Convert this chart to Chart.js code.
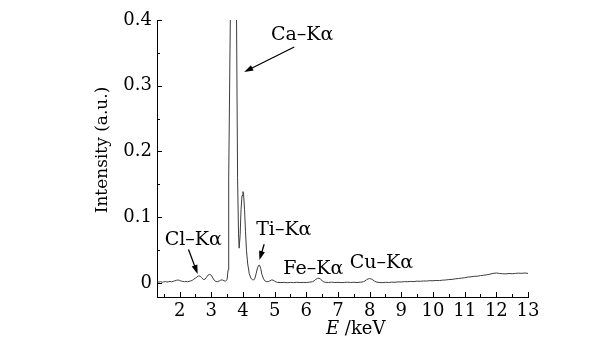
<!DOCTYPE html>
<html>
<head>
<meta charset="utf-8">
<script src="https://cdn.jsdelivr.net/npm/chart.js@4.4.0/dist/chart.umd.min.js"></script>
<style>
  body { margin: 0; background: #fff; }
</style>
</head>
<body>
<canvas id="myChart" width="611" height="338"></canvas>
<script>
// energy (keV) and intensity (a.u.)
var energy = [
    1.29, 1.35, 1.40, 1.45, 1.50, 1.55, 1.60, 1.65, 1.70, 1.75, 1.80, 1.85, 1.90, 1.95, 2.00,
    2.05, 2.10, 2.15, 2.20, 2.25, 2.30, 2.35, 2.40, 2.45, 2.50, 2.55, 2.60, 2.65, 2.70, 2.75,
    2.80, 2.85, 2.90, 2.95, 3.00, 3.05, 3.10, 3.15, 3.20, 3.25, 3.30, 3.35, 3.40, 3.45, 3.50,
    3.53, 3.55, 3.605, 3.69, 3.795, 3.83, 3.86, 3.88, 3.91, 3.94, 3.97, 4.00, 4.02, 4.05, 4.08,
    4.11, 4.15, 4.20, 4.25, 4.30, 4.34, 4.38, 4.42, 4.46, 4.50, 4.53, 4.56, 4.60, 4.65, 4.70,
    4.75, 4.80, 4.85, 4.90, 4.95, 5.00, 5.05, 5.10,
    5.2, 5.3, 5.4, 5.5, 5.6, 5.7, 5.8, 5.9, 6.0, 6.1, 6.2, 6.25, 6.3, 6.35, 6.4, 6.45, 6.5, 6.55,
    6.6, 6.7, 6.8, 6.9, 7.0, 7.1, 7.2, 7.3, 7.4, 7.5, 7.6, 7.7, 7.8, 7.85, 7.9, 7.95, 8.0, 8.05,
    8.1, 8.15, 8.2, 8.3, 8.4, 8.5, 8.6, 8.7, 8.8, 8.9, 9.0, 9.1, 9.2, 9.3, 9.4, 9.5, 9.6, 9.7,
    9.8, 9.9, 10.0, 10.1, 10.2, 10.3, 10.4, 10.5, 10.6, 10.7, 10.8, 10.9, 11.0, 11.1, 11.2, 11.3,
    11.4, 11.5, 11.6, 11.7, 11.8, 11.9, 12.0, 12.1, 12.2, 12.3, 12.4, 12.5, 12.6, 12.7, 12.8,
    12.9, 13.0
];
var intensity = [
    .0018, .0014, .0020, .0012, .0017, .0022, .0015, .0019, .0024, .0018, .0026, .0033, .0041, .0046, .0038,
    .0029, .0024, .0019, .0023, .0018, .0026, .0031, .0040, .0058, .0074, .0093, .0108, .0104, .0080, .0052,
    .0056, .0088, .0120, .0131, .0118, .0076, .0038, .0022, .0020, .0030, .0044, .0047, .0033, .0030, .0052,
    .020, .16, .42, 3.0, .42, .16, .075, .053, .072, .112, .133, .139, .135, .112, .078,
    .050, .029, .014, .0075, .0048, .0046, .0075, .0150, .0230, .0270, .0268, .0220, .0130, .0062, .0030,
    .0020, .0022, .0032, .0046, .0044, .0028, .0014, .0009,
    .0006, .0010, .0004, .0008, .0005, .0011, .0006, .0009, .0007, .0012, .0020, .0035, .0055, .0070, .0072, .0058, .0035, .0018,
    .0010, .0008, .0013, .0007, .0010, .0006, .0009, .0012, .0008, .0011, .0007, .0012, .0018, .0030, .0048, .0062, .0066, .0062,
    .0048, .0030, .0016, .0008, .0006, .0010, .0008, .0013, .0011, .0017, .0015, .0021, .0019, .0024, .0022, .0028, .0026, .0031,
    .0030, .0035, .0034, .0038, .0037, .0043, .0046, .0052, .0055, .0063, .0068, .0074, .0080, .0090, .0094, .0101,
    .0104, .0112, .0118, .0125, .0134, .0146, .0152, .0145, .0141, .0139, .0144, .0141, .0146, .0150, .0147,
    .0152, .0146
];

var xTicks = [2, 3, 4, 5, 6, 7, 8, 9, 10, 11, 12, 13];
var yTicks = [0, 0.1, 0.2, 0.3, 0.4];

// peak labels: text, label centre (keV, a.u.), arrow start and tip (or null)
var peakNames = ["Ca\u2013K\u03b1", "Cl\u2013K\u03b1", "Ti\u2013K\u03b1", "Fe\u2013K\u03b1", "Cu\u2013K\u03b1"];
var labelPos = [[5.87, 0.377], [2.43, 0.065], [5.29, 0.080], [6.22, 0.0213], [8.37, 0.031]];
var arrowFrom = [[5.62, 0.359], [2.28, 0.051], [4.67, 0.059], null, null];
var arrowTo = [[4.04, 0.321], [2.57, 0.0137], [4.52, 0.035], null, null];

var serif = "'DejaVu Serif', serif";

var spectrum = [];
for (var i = 0; i < energy.length; i++) {
    spectrum.push({ x: energy[i], y: intensity[i] });
}

// inward tick marks, axis titles and peak labels
var extras = {
    id: "extras",
    afterDraw: function (chart) {
        var ctx = chart.ctx;
        var xs = chart.scales.x;
        var ys = chart.scales.y;
        var area = chart.chartArea;
        ctx.save();
        ctx.strokeStyle = "#000";
        ctx.lineWidth = 1;

        // x ticks every 0.5 keV
        for (var v = 1.5; v <= 13.001; v += 0.5) {
            var px = Math.round(xs.getPixelForValue(v)) + 0.5;
            var len = (v % 1 === 0) ? 5 : 3;
            ctx.beginPath();
            ctx.moveTo(px, area.bottom);
            ctx.lineTo(px, area.bottom - len);
            ctx.stroke();
        }
        // y ticks every 0.05
        for (var k = 0; k <= 8; k++) {
            var val = k * 0.05;
            var py = Math.round(ys.getPixelForValue(val)) + 0.5;
            var l = (k % 2 === 0) ? 5 : 3;
            ctx.beginPath();
            ctx.moveTo(area.left, py);
            ctx.lineTo(area.left + l, py);
            ctx.stroke();
        }

        ctx.fillStyle = "#000";
        ctx.textBaseline = "middle";

        // y title
        ctx.save();
        ctx.translate(103, 150);
        ctx.rotate(-Math.PI / 2);
        ctx.textAlign = "center";
        ctx.font = "17px " + serif;
        ctx.fillText("Intensity (a.u.)", 0, 0);
        ctx.restore();

        // x title: italic E, upright unit
        ctx.textAlign = "left";
        ctx.font = "italic 18px " + serif;
        var eW = ctx.measureText("E ").width;
        ctx.fillText("E ", 326, 329);
        ctx.font = "18px " + serif;
        ctx.fillText("/keV", 326 + eW, 329);

        // peak labels and arrows
        ctx.font = "19px " + serif;
        ctx.textAlign = "center";
        for (var j = 0; j < peakNames.length; j++) {
            ctx.fillText(peakNames[j], xs.getPixelForValue(labelPos[j][0]), ys.getPixelForValue(labelPos[j][1]));
            if (arrowFrom[j]) {
                var x0 = xs.getPixelForValue(arrowFrom[j][0]);
                var y0 = ys.getPixelForValue(arrowFrom[j][1]);
                var x1 = xs.getPixelForValue(arrowTo[j][0]);
                var y1 = ys.getPixelForValue(arrowTo[j][1]);
                var ang = Math.atan2(y1 - y0, x1 - x0);
                ctx.beginPath();
                ctx.moveTo(x0, y0);
                ctx.lineTo(x1 - 6 * Math.cos(ang), y1 - 6 * Math.sin(ang));
                ctx.lineWidth = 1.3;
                ctx.stroke();
                ctx.beginPath();
                ctx.moveTo(x1, y1);
                ctx.lineTo(x1 - 9 * Math.cos(ang) + 3 * Math.sin(ang), y1 - 9 * Math.sin(ang) - 3 * Math.cos(ang));
                ctx.lineTo(x1 - 9 * Math.cos(ang) - 3 * Math.sin(ang), y1 - 9 * Math.sin(ang) + 3 * Math.cos(ang));
                ctx.closePath();
                ctx.fill();
            }
        }
        ctx.restore();
    }
};

var ctx = document.getElementById("myChart").getContext("2d");
var myChart = new Chart(ctx, {
    type: "scatter",
    data: {
        datasets: [
            {
                data: spectrum,
                showLine: true,
                borderColor: "#3c3c3c",
                borderWidth: 1,
                pointRadius: 0,
                tension: 0,
            },
        ],
    },
    options: {
        responsive: false,
        animation: false,
        devicePixelRatio: 1,
        layout: { padding: { left: 0, right: 83, top: 20, bottom: 0 } },
        plugins: {
            legend: { display: false },
            tooltip: { enabled: false },
        },
        scales: {
            x: {
                type: "linear",
                min: 1.286,
                max: 13,
                grid: { display: false, drawTicks: false },
                border: { display: true, color: "#000", width: 1 },
                afterBuildTicks: function (s) {
                    s.ticks = xTicks.map(function (v) { return { value: v }; });
                },
                afterFit: function (s) { s.height = 41; },
                ticks: {
                    padding: 4,
                    color: "#000",
                    maxRotation: 0,
                    autoSkip: false,
                    font: { family: serif, size: 18 },
                    callback: function (v) { return String(v); },
                },
            },
            y: {
                min: -0.0213,
                max: 0.4,
                grid: { display: false, drawTicks: false },
                border: { display: true, color: "#000", width: 1 },
                afterBuildTicks: function (s) {
                    s.ticks = yTicks.map(function (v) { return { value: v }; });
                },
                afterFit: function (s) { s.width = 157; },
                ticks: {
                    padding: 5,
                    color: "#000",
                    font: { family: serif, size: 18 },
                    callback: function (v) { return v === 0 ? "0" : v.toFixed(1); },
                },
            },
        },
    },
    plugins: [extras],
});
</script>
</body>
</html>
